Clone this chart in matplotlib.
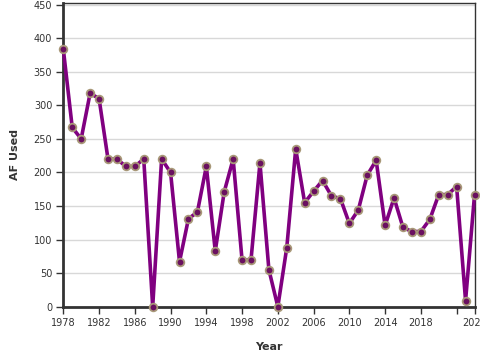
import matplotlib
matplotlib.use("Agg")
import matplotlib.pyplot as plt

#==============================================================================
# Data
#==============================================================================

years = list(range(1978, 2025))
af_used = [384, 267, 250, 318, 310, 220, 220, 209, 209, 220,
           0, 220, 200, 67, 131, 141, 209, 83, 171, 220,
           69, 70, 214, 55, 0, 88, 235, 155, 172, 188,
           165, 161, 124, 144, 196, 218, 121, 162, 118, 112,
           112, 130, 167, 167, 179, 9, 166]

x_ticks = [1978, 1982, 1986, 1990, 1994, 1998, 2002, 2006, 2010, 2014,
           2018, 2022, 2024]
x_tick_labels = ["1978", "1982", "1986", "1990", "1994", "1998", "2002",
                 "2006", "2010", "2014", "2018", "", "2024"]
y_ticks = [0, 50, 100, 150, 200, 250, 300, 350, 400, 450]

#==============================================================================
# Plot
#==============================================================================

fig = plt.figure(figsize=(4.8, 3.6), dpi=100)
ax = fig.add_axes([63.3 / 480, (360 - 306.7) / 360,
                   (474.5 - 63.3) / 480, (306.7 - 3.3) / 360])

ax.plot(years, af_used, color="#800080", linewidth=2.6, zorder=3,
        clip_on=False, solid_joinstyle="round",
        marker="o", markersize=5.5, markerfacecolor="#6a1060",
        markeredgecolor="#a89878", markeredgewidth=1.3)

ax.set_xlim(1978, 2024)
ax.set_ylim(0, 452)

ax.set_xticks(x_ticks)
ax.set_xticklabels(x_tick_labels)
ax.set_yticks(y_ticks)

ax.grid(axis="y", color="#d8d8d8", linewidth=1)
ax.set_axisbelow(True)

for side in ["left", "bottom"]:
    ax.spines[side].set_linewidth(2)
    ax.spines[side].set_color("#333333")
for side in ["top", "right"]:
    ax.spines[side].set_linewidth(1)
    ax.spines[side].set_color("#333333")

ax.tick_params(axis="both", labelsize=7, colors="#333333", length=5,
               width=1, direction="out", pad=3)

ax.set_xlabel("Year", fontsize=8, fontweight="bold", color="#333333",
              labelpad=10)
ax.set_ylabel("AF Used", fontsize=8, fontweight="bold", color="#333333",
              labelpad=10)

fig.savefig("out.png", dpi=100)
